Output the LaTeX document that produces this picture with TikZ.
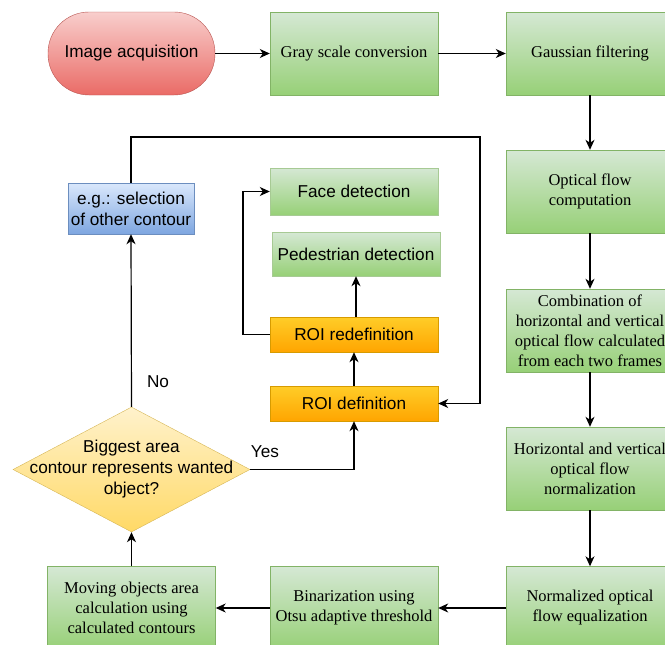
\documentclass[tikz,border=0pt]{standalone}
\usepackage{fontspec}
\setmainfont{Liberation Serif}
\newfontfamily\arialfont{Liberation Sans}
\usetikzlibrary{arrows.meta,positioning,shapes.geometric}
\definecolor{redtop}{HTML}{F8CECC}
\definecolor{redbot}{HTML}{EA6B66}
\definecolor{redline}{HTML}{B85450}
\definecolor{greentop}{HTML}{D5E8D4}
\definecolor{greenbot}{HTML}{97D077}
\definecolor{greenline}{HTML}{82B366}
\definecolor{bluetop}{HTML}{DAE8FC}
\definecolor{bluebot}{HTML}{7EA6E0}
\definecolor{blueline}{HTML}{6C8EBF}
\definecolor{orangetop}{HTML}{FFCD28}
\definecolor{orangebot}{HTML}{FFA500}
\definecolor{orangeline}{HTML}{D79B00}
\definecolor{yellowtop}{HTML}{FFF2CC}
\definecolor{yellowbot}{HTML}{FFD966}
\definecolor{yellowline}{HTML}{D6B656}
\tikzset{
  seriftext/.style={font=\fontsize{16.5}{20}\selectfont},
  sanstext/.style={font=\arialfont\fontsize{17.2}{21}\selectfont},
  procbox/.style={draw=greenline,top color=greentop,bottom color=greenbot,
    minimum width=168pt,minimum height=83pt,inner sep=1pt,align=center,seriftext},
  detbox/.style={draw=greenline!70,top color=greentop,bottom color=greenbot,
    minimum width=168pt,inner sep=1pt,align=center,sanstext},
  roibox/.style={draw=orangeline,top color=orangetop,bottom color=orangebot,
    minimum width=168pt,minimum height=35pt,inner sep=1pt,align=center,sanstext},
  startbox/.style={draw=redline,top color=redtop,bottom color=redbot,
    minimum width=167pt,minimum height=83pt,rounded corners=41pt,align=center,sanstext},
  altbox/.style={draw=blueline,top color=bluetop,bottom color=bluebot,
    minimum width=126pt,minimum height=51pt,inner sep=1pt,align=center,sanstext},
  decision/.style={diamond,draw=yellowline,top color=yellowtop,bottom color=yellowbot,
    minimum width=237pt,minimum height=125pt,inner sep=0pt},
  arr/.style={-{Stealth[length=10pt,width=9pt,inset=3pt]},line width=1.2pt},
}
\begin{document}
\begin{tikzpicture}[x=1pt,y=-1pt]
  \useasboundingbox (0,0) rectangle (665,645);
  \clip (0,0) rectangle (665,645);
  % top row
  \node[startbox] (acq) at (131.5,53.5) {Image acquisition};
  \node[procbox] (gray) at (354,53.5) {Gray scale conversion};
  \node[procbox] (gauss) at (590,53.5) {Gaussian filtering};
  % right column
  \node[procbox] (ofc) at (590,191.5) {Optical flow\\computation};
  \node[procbox] (comb) at (590,330.5) {Combination of\\horizontal and vertical\\optical flow calculated\\from each two frames};
  \node[procbox] (norm) at (590,468.5) {Horizontal and vertical\\optical flow\\normalization};
  \node[procbox] (equal) at (590,608) {Normalized optical\\flow equalization};
  % bottom row
  \node[procbox] (bin) at (354,608) {Binarization using\\Otsu adaptive threshold};
  \node[procbox] (move) at (131.5,608) {Moving objects area\\calculation using\\calculated contours};
  % decision and branches
  \node[decision] (dec) at (131.5,469.5) {};
  \node[sanstext,align=center] (dectext) at (dec) {Biggest area\\contour represents wanted\\object?};
  \node[altbox] (sel) at (131,208.5) {e.g.: selection\\of other contour};
  \node[detbox,minimum height=47pt] (face) at (354,191.5) {Face detection};
  \node[detbox,minimum height=44pt] (ped) at (356,254) {Pedestrian detection};
  \node[roibox] (roiredef) at (354,334.5) {ROI redefinition};
  \node[roibox] (roidef) at (354,403.5) {ROI definition};
  \coordinate (loopTR) at (480,137);
  \coordinate (bendL) at (243,260);
  % connectors
  \draw[arr] (acq) -- (gray);
  \draw[arr] (gray) -- (gauss);
  \draw[arr] (gauss) -- (ofc);
  \draw[arr] (ofc) -- (comb);
  \draw[arr] (comb) -- (norm);
  \draw[arr] (norm) -- (equal);
  \draw[arr] (equal) -- (bin);
  \draw[arr] (bin) -- (move);
  \draw[arr] (move) -- (dec.south);
  \draw[arr] (dec.north) -- (sel.south);
  \draw[arr] (dec.east) -| (roidef.south);
  \draw[arr] (sel.north) |- (loopTR) |- (roidef.east);
  \draw[arr] (roidef) -- (roiredef);
  \draw[arr] (ped.south |- roiredef.north) -- (ped.south);
  \draw[arr] (roiredef.west) -| (bendL) |- (face.west);
  \node[sanstext] (nolabel) at (158,382) {No};
  \node[sanstext] (yeslabel) at (265,452) {Yes};
\end{tikzpicture}
\end{document}
